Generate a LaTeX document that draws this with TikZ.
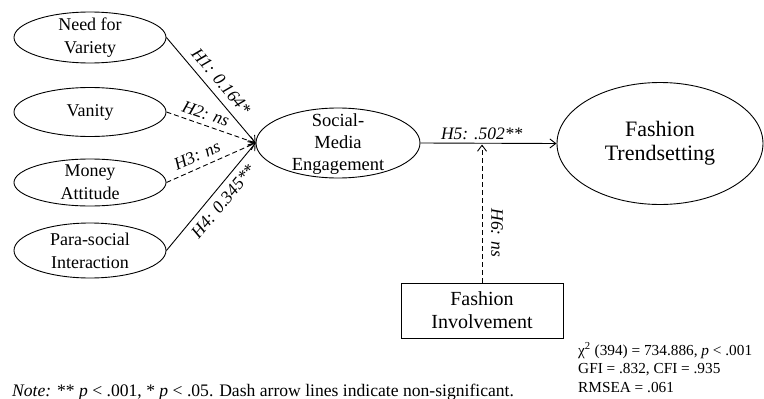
\documentclass[tikz,border=0pt]{standalone}
\usepackage{fontspec}
\setmainfont{Liberation Serif}
\usetikzlibrary{shapes.geometric,arrows.meta}
\tikzset{
  shell/.style={ellipse, draw, line width=0.9pt, inner sep=0pt},
  txt/.style={align=center, inner sep=0pt},
  small/.style={font=\fontsize{18}{23}\selectfont},
  path/.style={line width=0.9pt, -{Straight Barb[length=6pt,width=9pt]}},
  ns/.style={path, dash pattern=on 5pt off 3pt},
  lab/.style={font=\fontsize{17.5}{20}\selectfont\itshape, inner sep=2pt},
  stat/.style={font=\fontsize{15.3}{18}\selectfont, anchor=base west, inner sep=0pt}
}
\begin{document}
\begin{tikzpicture}[x=1pt,y=-1pt]
\useasboundingbox (0,0) rectangle (764,399);
% exogenous constructs
\node[shell, minimum width=152pt, minimum height=51pt] (nv) at (90,37.5) {};
\node[txt, small] (nvt) at (nv) {Need for\\Variety};
\node[shell, minimum width=152pt, minimum height=49pt] (van) at (90,112) {};
\node[txt, small] (vant) at (van) {Vanity};
\node[shell, minimum width=152pt, minimum height=47pt] (mon) at (90,182.5) {};
\node[txt, small] (mont) at (mon) {Money\\Attitude};
\node[shell, minimum width=152pt, minimum height=55pt] (psi) at (90,250.5) {};
\node[txt, small] (psit) at (psi) {Para-social\\Interaction};
% mediator
\node[shell, minimum width=164pt, minimum height=70pt] (sme) at (338,143) {};
\node[txt, font=\fontsize{18.5}{22}\selectfont] (smet) at (338,144) {Social-\\Media\\Engagement};
% outcome
\node[shell, minimum width=206pt, minimum height=122pt] (ft) at (660,143.5) {};
\node[txt, font=\fontsize{22}{24}\selectfont] (ftt) at (660,143) {Fashion\\Trendsetting};
% moderator
\node[draw, line width=0.9pt, inner sep=0pt, align=center, font=\fontsize{20}{23}\selectfont, minimum width=162pt, minimum height=55pt] (fi) at (482,310.5) {Fashion\\Involvement};
\coordinate (mod) at (482,144.5);
% paths
\draw[path] (nv.east) -- node[lab, sloped, above=5pt, pos=0.5] {H1: 0.164*} (sme.west);
\draw[ns] (van.east) -- node[lab, sloped, above=3pt, pos=0.4] {H2: ns} (sme.west);
\draw[ns] (mon.east) -- node[lab, sloped, above=4pt, pos=0.4] {H3: ns} (sme.west);
\draw[path] (psi.east) -- node[lab, sloped, below=4pt, pos=0.53] {H4: 0.345**} (sme.west);
\draw[path] (sme.east) -- node[lab, above=1pt, pos=0.45] {H5: .502**} (ft.west);
\draw[ns] (fi.north) -- coordinate[pos=0.36] (h6) (mod);
\node[lab, rotate=-90, anchor=south] (h6l) at ([xshift=7pt]h6) {H6: ns};
% fit statistics
\node[stat] (s1) at (578,355) {χ\textsuperscript{2} (394) = 734.886, \textit{p} < .001};
\node[stat] (s2) at (578,373.5) {GFI = .832, CFI = .935};
\node[stat] (s3) at (578,392) {RMSEA = .061};
% note
\node[stat, font=\fontsize{17.6}{20}\selectfont] (note) at (12,396) {\textit{Note:} ** \textit{p} < .001, * \textit{p} < .05. Dash arrow lines indicate non-significant.};
\end{tikzpicture}
\end{document}
